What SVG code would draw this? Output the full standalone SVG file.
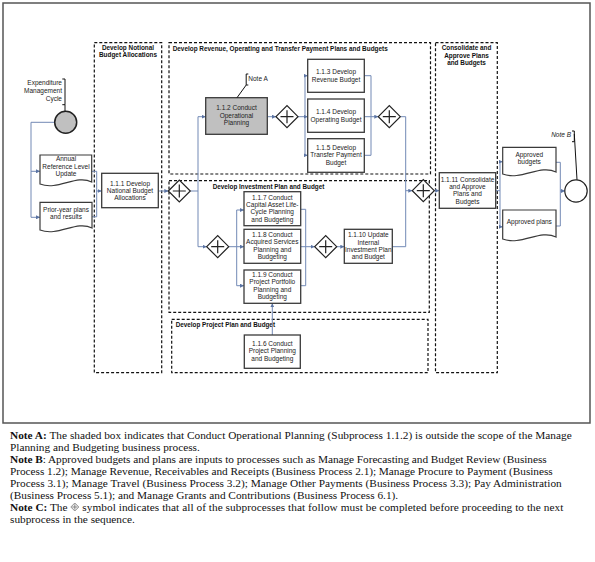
<svg xmlns="http://www.w3.org/2000/svg" width="595" height="562" viewBox="0 0 595 562">
<style>
.lane{fill:none;stroke:#111;stroke-width:1.2;stroke-dasharray:3 2}
.box{fill:#fff;stroke:#3a3a3a;stroke-width:1.3}
.shaded{fill:#c0c0c0;stroke:#3a3a3a;stroke-width:1.3}
.doc{fill:#fff;stroke:#3a3a3a;stroke-width:1.2}
.t{font-family:"Liberation Sans",Arial,sans-serif;font-size:6.5px;fill:#222;text-anchor:middle}
.tl{font-family:"Liberation Sans",Arial,sans-serif;font-size:6.5px;fill:#222}
.h{font-family:"Liberation Sans",Arial,sans-serif;font-size:6.4px;font-weight:bold;fill:#111}
.hc{font-family:"Liberation Sans",Arial,sans-serif;font-size:6.4px;font-weight:bold;fill:#111;text-anchor:middle}
.c{fill:none;stroke:#7289b5;stroke-width:1}
.ca{fill:none;stroke:#7289b5;stroke-width:1;marker-end:url(#ah)}
.ann{fill:none;stroke:#111;stroke-width:1}
.n{font-family:"Liberation Serif","Times New Roman",serif;font-size:11.3px;fill:#111}
.b{font-weight:bold}
</style>
<defs>
<marker id="ah" markerWidth="4" markerHeight="4" refX="4" refY="2" orient="auto" markerUnits="userSpaceOnUse"><path d="M0,0 L4,2 L0,4 z" fill="#5b74a3"/></marker>
<g id="gw"><path d="M-11 0 L0 -11 L11 0 L0 11 Z" fill="#fff" stroke="#222" stroke-width="1.2"/><path d="M-6.5 0 H6.5 M0 -6.5 V6.5" stroke="#222" stroke-width="1.2"/></g>
</defs>

<rect x="3" y="3" width="587" height="420" fill="none" stroke="#555" stroke-width="1.5"/>

<g id="lanes">
<rect class="lane" x="94.3" y="42.7" width="67.4" height="330"/>
<rect class="lane" x="169" y="42.7" width="261.5" height="131.3"/>
<rect class="lane" x="169" y="180.7" width="260.3" height="131.6"/>
<rect class="lane" x="171.7" y="319.3" width="256.3" height="53.4"/>
<rect class="lane" x="435.5" y="42.7" width="61.8" height="330"/>
<text class="hc" x="128" y="49.5">Develop Notional</text>
<text class="hc" x="128" y="56.8">Budget Allocations</text>
<text class="h" x="172.7" y="51.3" textLength="215" lengthAdjust="spacingAndGlyphs">Develop Revenue, Operating and Transfer Payment Plans and Budgets</text>
<text class="h" x="212.7" y="188.6" textLength="111.6" lengthAdjust="spacingAndGlyphs">Develop Investment Plan and Budget</text>
<text class="h" x="175.7" y="326.6" textLength="99.3" lengthAdjust="spacingAndGlyphs">Develop Project Plan and Budget</text>
<text class="hc" x="466.5" y="50">Consolidate and</text>
<text class="hc" x="466.5" y="58">Approve Plans</text>
<text class="hc" x="466.5" y="65">and Budgets</text>
</g>

<g id="connectors">
<path class="c" d="M54.7 122.3 H31 V217.3"/>
<path class="ca" d="M31 171.3 H40"/>
<path class="ca" d="M31 217.3 H40"/>
<path class="c" d="M91.7 171.3 H96.7 V216.8 H92"/>
<path class="ca" d="M96.7 191 H101.7"/>
<path class="ca" d="M158.3 191 H168.3"/>
<path class="c" d="M190.3 191 H198 M198 116.7 V246.7"/>
<path class="ca" d="M198 116.7 H205.7"/>
<path class="ca" d="M198 246.7 H206.7"/>
<path class="ca" d="M267.3 116.7 H276"/>
<path class="c" d="M298 116.7 H305 M305 75.7 V155.3"/>
<path class="ca" d="M305 75.7 H307.7"/>
<path class="ca" d="M305 116.7 H307.7"/>
<path class="ca" d="M305 155.3 H307.7"/>
<path class="c" d="M364.3 75.7 H371 V155.3 H364.3"/>
<path class="ca" d="M364.3 116.7 H378.3"/>
<path class="c" d="M400.3 116.7 H405.7 V246.7 H392.3"/>
<path class="ca" d="M405.7 190.7 H412.3"/>
<path class="ca" d="M434.3 190.7 H439.3"/>
<path class="c" d="M495.7 190.7 H500 M500 161.7 V226.8"/>
<path class="ca" d="M500 161.7 H502.7"/>
<path class="ca" d="M500 226.8 H502.7"/>
<path class="c" d="M556 162.3 H560.3 V226 H556"/>
<path class="ca" d="M560.3 190.9 H565"/>
<path class="c" d="M228.7 246.7 H236.7 M236.7 210 V285.7"/>
<path class="ca" d="M236.7 210 H244"/>
<path class="ca" d="M236.7 246.7 H244"/>
<path class="ca" d="M236.7 285.7 H244"/>
<path class="c" d="M300.7 209.3 H305.7 V285.7 H300.7"/>
<path class="ca" d="M300.7 246.7 H314.7"/>
<path class="ca" d="M336.7 246.7 H344.3"/>
<path class="ca" d="M272.3 335 V303.3"/>
</g>

<g id="start">
<circle cx="65.7" cy="122.3" r="11" fill="#c0c0c0" stroke="#222" stroke-width="1.5"/>
<path class="ann" d="M62.3 79 H65 V104.7 H62.3 M65 104.7 V111.3"/>
<text class="tl" x="62" y="84.5" text-anchor="end">Expenditure</text>
<text class="tl" x="62" y="92.5" text-anchor="end">Management</text>
<text class="tl" x="62" y="100.5" text-anchor="end">Cycle</text>
</g>

<g id="doc-annual">
<path class="doc" d="M40 155 H91.7 V182 C76.2 174 58.1 191 40 184 Z"/>
<text class="t" x="66" y="161.3">Annual</text>
<text class="t" x="66" y="168.8">Reference Level</text>
<text class="t" x="66" y="176.3">Update</text>
</g>
<g id="doc-prior">
<path class="doc" d="M40 202.3 H92 V228 C76.4 220 58.2 237 40 230 Z"/>
<text class="t" x="66" y="211.6">Prior-year plans</text>
<text class="t" x="66" y="219">and results</text>
</g>

<g id="n111">
<rect class="box" x="101.7" y="173.3" width="56.6" height="34.4"/>
<text class="t" x="130" y="185.6">1.1.1  Develop</text>
<text class="t" x="130" y="193.2">National Budget</text>
<text class="t" x="130" y="200.4">Allocations</text>
</g>

<use href="#gw" x="179.3" y="191"/>

<g id="n112">
<rect class="shaded" x="205.7" y="97.7" width="61.6" height="36.6"/>
<text class="t" x="236.5" y="110">1.1.2 Conduct</text>
<text class="t" x="236.5" y="117.5">Operational</text>
<text class="t" x="236.5" y="125">Planning</text>
<path class="ann" d="M248.3 74 H246.2 V85 H248.3 M246.2 85 L237 97.7"/>
<text class="tl" x="248.3" y="81.3">Note A</text>
</g>

<use href="#gw" x="287" y="116.7"/>

<g id="n113">
<rect class="box" x="307.7" y="59.3" width="56.6" height="33"/>
<text class="t" x="336" y="74">1.1.3 Develop</text>
<text class="t" x="336" y="82">Revenue Budget</text>
</g>
<g id="n114">
<rect class="box" x="307.7" y="99" width="56.6" height="33.3"/>
<text class="t" x="336" y="114">1.1.4 Develop</text>
<text class="t" x="336" y="121.6">Operating Budget</text>
</g>
<g id="n115">
<rect class="box" x="307.7" y="138.7" width="56.6" height="33.6"/>
<text class="t" x="336" y="149.6">1.1.5 Develop</text>
<text class="t" x="336" y="157.3">Transfer Payment</text>
<text class="t" x="336" y="165">Budget</text>
</g>

<use href="#gw" x="389.3" y="116.7"/>
<use href="#gw" x="217.7" y="246.7"/>

<g id="n117">
<rect class="box" x="244" y="191.7" width="56.7" height="34"/>
<text class="t" x="272.3" y="199.6">1.1.7 Conduct</text>
<text class="t" x="272.3" y="206.8">Capital Asset Life-</text>
<text class="t" x="272.3" y="214.3">Cycle Planning</text>
<text class="t" x="272.3" y="222">and Budgeting</text>
</g>
<g id="n118">
<rect class="box" x="244" y="229.3" width="56.7" height="34"/>
<text class="t" x="272.3" y="237">1.1.8 Conduct</text>
<text class="t" x="272.3" y="244.4">Acquired Services</text>
<text class="t" x="272.3" y="252">Planning and</text>
<text class="t" x="272.3" y="259.4">Budgeting</text>
</g>
<g id="n119">
<rect class="box" x="244" y="270" width="56.7" height="33.3"/>
<text class="t" x="272.3" y="277">1.1.9 Conduct</text>
<text class="t" x="272.3" y="284.4">Project Portfolio</text>
<text class="t" x="272.3" y="291.7">Planning and</text>
<text class="t" x="272.3" y="299">Budgeting</text>
</g>

<use href="#gw" x="325.7" y="246.7"/>

<g id="n1110">
<rect class="box" x="344.3" y="229.3" width="48" height="34"/>
<text class="t" x="368.3" y="237">1.1.10 Update</text>
<text class="t" x="368.3" y="245">Internal</text>
<text class="t" x="368.3" y="252">Investment Plan</text>
<text class="t" x="368.3" y="259.4">and Budget</text>
</g>

<g id="n116">
<rect class="box" x="244.3" y="335" width="56" height="33.3"/>
<text class="t" x="272.3" y="345.6">1.1.6 Conduct</text>
<text class="t" x="272.3" y="353">Project Planning</text>
<text class="t" x="272.3" y="360.6">and Budgeting</text>
</g>

<use href="#gw" x="423.3" y="190.7"/>

<g id="n1111">
<rect class="box" x="439.3" y="172.7" width="56.4" height="35.6"/>
<text class="t" x="467.5" y="181.6">1.1.11 Consolidate</text>
<text class="t" x="467.5" y="189">and Approve</text>
<text class="t" x="467.5" y="196.3">Plans and</text>
<text class="t" x="467.5" y="203.6">Budgets</text>
</g>

<g id="doc-budgets">
<path class="doc" d="M502.7 147.3 H556 V172 C540 164 521.4 181 502.7 174 Z"/>
<text class="t" x="529.3" y="156.6">Approved</text>
<text class="t" x="529.3" y="164">budgets</text>
</g>
<g id="doc-plans">
<path class="doc" d="M502.7 210 H556 V237 C540 229 521.4 246 502.7 239 Z"/>
<text class="t" x="529.3" y="224">Approved plans</text>
</g>

<g id="end">
<circle cx="576" cy="191" r="11.2" fill="#fff" stroke="#222" stroke-width="1.2"/>
<path class="ann" d="M572 131 H574.3 V141.7 H572 M574.3 134 L577 179.8"/>
<text class="tl" x="571" y="137.3" text-anchor="end" font-style="italic">Note B</text>
</g>

<g id="notes">
<text class="n" x="10" y="438.8" textLength="561.7" lengthAdjust="spacing"><tspan class="b">Note A:</tspan> The shaded box indicates that Conduct Operational Planning (Subprocess 1.1.2) is outside the scope of the Manage</text>
<text class="n" x="10" y="450.8">Planning and Budgeting business process.</text>
<text class="n" x="10" y="462.8" textLength="536.7" lengthAdjust="spacing"><tspan class="b">Note B</tspan>: Approved budgets and plans are inputs to processes such as Manage Forecasting and Budget Review (Business</text>
<text class="n" x="10" y="474.8" textLength="542.7" lengthAdjust="spacing">Process 1.2); Manage Revenue, Receivables  and Receipts (Business Process 2.1); Manage Procure to Payment (Business</text>
<text class="n" x="10" y="486.8" textLength="551.7" lengthAdjust="spacing">Process 3.1); Manage Travel (Business Process 3.2); Manage Other Payments (Business Process 3.3); Pay Administration</text>
<text class="n" x="10" y="498.8">(Business Process 5.1); and Manage Grants and Contributions (Business Process 6.1).</text>
<text class="n" x="10" y="510.8"><tspan class="b">Note C:</tspan> The</text>
<path d="M70.8 507 L74.8 503 L78.8 507 L74.8 511 Z M72.2 507 H77.4 M74.8 504.4 V509.6" fill="#eee" stroke="#666" stroke-width="0.7"/>
<text class="n" x="82.3" y="510.8" textLength="481" lengthAdjust="spacing">symbol indicates that all of the subprocesses that follow must be completed  before proceeding to the next</text>
<text class="n" x="10" y="522.6">subprocess in the sequence.</text>
</g>
</svg>
